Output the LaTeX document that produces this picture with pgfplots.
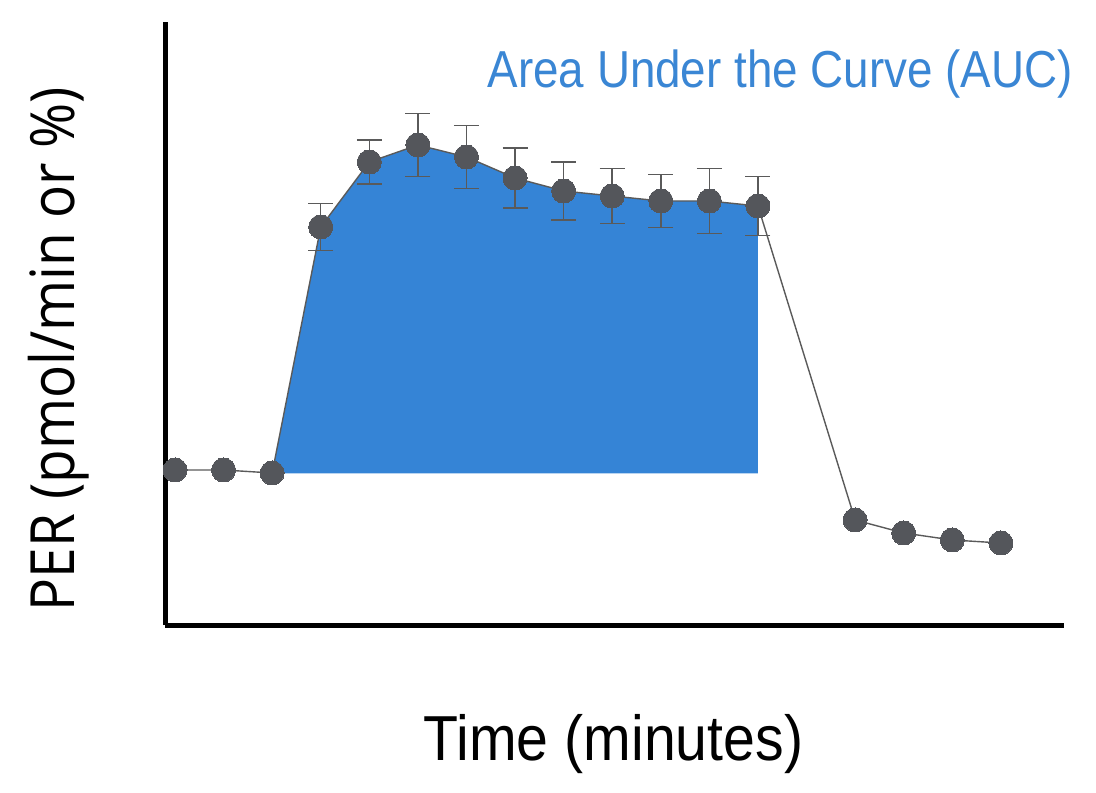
\documentclass[border=0pt]{standalone}
\usepackage{fontspec}
\setmainfont{Liberation Sans}
\newfontfamily\robo[FakeStretch=0.9]{Liberation Sans}
\newfontfamily\roboauc[FakeStretch=0.88]{Liberation Sans}
\newfontfamily\opensans[FakeStretch=0.9]{Open Sans}
\usepackage{pgfplots}
\usepackage{pgfplotstable}
\pgfplotsset{compat=1.18}
\definecolor{aucblue}{HTML}{3584D6}
\definecolor{txtblue}{HTML}{3A86D4}
\definecolor{dotgray}{HTML}{54565B}
\definecolor{linegray}{HTML}{5A5A5A}

\pgfplotstableread{
x y
0 155
1 155
2 152
3 398
4 463
5 480
6 468
7 447
8 434
9 429
10 424
11 424
12 419
14 105
15 92
16 85
17 82
}\allpts

\pgfplotstableread{
x y err
3 398 23.5
4 463 22
5 480 31.5
6 468 31.5
7 447 30
8 434 29
9 429 27.5
10 424 26.5
11 424 32.5
12 419 29.5
}\errpts

\pgfplotstableread{
x y
2 151.5
3 398
4 463
5 480
6 468
7 447
8 434
9 429
10 424
11 424
12 419
12 151.5
}\aucpts

\begin{document}
\begin{tikzpicture}
\useasboundingbox (-82.5pt,-83.5pt) rectangle (465.5pt,312.5pt);
\begin{axis}[
  at={(0,0)}, anchor=south west,
  scale only axis, width=449.5pt, height=301.5pt,
  xmin=-0.206, xmax=18.3, ymin=0, ymax=603,
  axis x line*=bottom, axis y line*=left,
  axis line style={line width=2.5pt, black},
  xtick=\empty, ytick=\empty,
  clip=false,
]
\addplot[fill=aucblue, draw=none, forget plot] table[x=x,y=y]{\aucpts} -- cycle;
\addplot[color=linegray, line width=0.7pt, mark=*, mark size=6pt,
  mark options={fill=dotgray, draw=dotgray, line width=0pt}] table[x=x,y=y]{\allpts};
\addplot[draw=none, mark=*, mark size=6pt,
  mark options={fill=dotgray, draw=dotgray, line width=0pt},
  error bars/.cd, y dir=both, y explicit,
  error bar style={draw=linegray, line width=0.75pt},
  error mark options={rotate=90, mark size=6.25pt, draw=linegray, line width=0.75pt}]
  table[x=x,y=y,y error=err]{\errpts};
\end{axis}
\node[anchor=base east, text=txtblue, inner sep=0pt] at (454pt,268.5pt)
  {\roboauc\fontsize{26pt}{30pt}\selectfont Area Under the Curve (AUC)};
\node[anchor=base, inner sep=0pt] at (224.25pt,-67.5pt)
  {\robo\fontsize{31.8pt}{36pt}\selectfont Time (minutes)};
\node[anchor=base, rotate=90, inner sep=0pt] at (-45pt,138pt)
  {\opensans\fontsize{30.5pt}{35pt}\selectfont PER (pmol/min or \%)};
\end{tikzpicture}
\end{document}
